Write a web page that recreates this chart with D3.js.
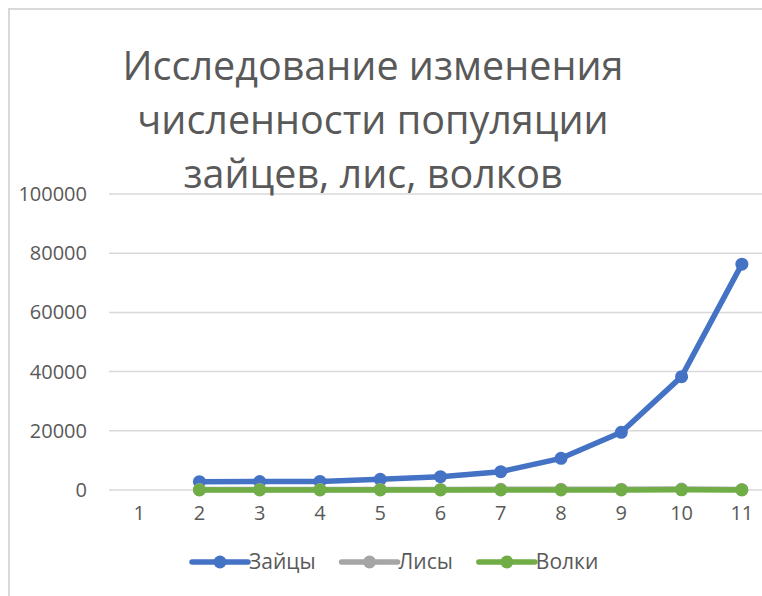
<!DOCTYPE html>
<html>
<head>
<meta charset="utf-8">
<script src="https://cdn.jsdelivr.net/npm/d3@7"></script>
<style>
  html, body { margin: 0; padding: 0; background: #fff; }
  svg { display: block; font-family: "Open Sans", "Noto Sans", sans-serif; }
</style>
</head>
<body>
<div id="chart"></div>
<script>
// данные графика
const categories = ["1", "2", "3", "4", "5", "6", "7", "8", "9", "10", "11"];
const hares  = [null, 2800, 2850, 2900, 3600, 4500, 6200, 10700, 19500, 38300, 76300];
const foxes  = [null, 150, 160, 170, 180, 200, 220, 250, 280, 320, 150];
const wolves = [null, 20, 22, 25, 28, 30, 33, 36, 40, 45, 30];
const yTicks = [0, 20000, 40000, 60000, 80000, 100000];
const seriesNames = ["Зайцы", "Лисы", "Волки"];
const titleLines = ["Исследование изменения", "численности популяции", "зайцев, лис, волков"];

const colors = d3.scaleOrdinal()
  .domain(seriesNames)
  .range(["#4472C4", "#A5A5A5", "#70AD47"]);

const width = 762;
const height = 596;

const svg = d3.select("#chart")
  .append("svg")
  .attr("width", width)
  .attr("height", height);

// рамка области диаграммы
svg.append("rect")
  .attr("x", 9)
  .attr("y", 9)
  .attr("width", width + 20)
  .attr("height", height + 20)
  .attr("fill", "none")
  .attr("stroke", "#d9d9d9")
  .attr("stroke-width", 2);

// шкалы
const x = d3.scaleBand()
  .domain(categories)
  .range([109, 772])
  .padding(0);

const y = d3.scaleLinear()
  .domain([0, 100000])
  .range([490, 194]);

// сетка
svg.append("g")
  .selectAll("line")
  .data(yTicks)
  .enter()
  .append("line")
  .attr("x1", 109)
  .attr("x2", 772)
  .attr("y1", d => y(d))
  .attr("y2", d => y(d))
  .attr("stroke", "#d9d9d9")
  .attr("stroke-width", 1.5);

// подписи оси Y
const yAxis = d3.axisLeft(y)
  .tickValues(yTicks)
  .tickSize(0)
  .tickPadding(22)
  .tickFormat(d3.format("d"));

svg.append("g")
  .attr("transform", "translate(109,0)")
  .call(yAxis)
  .call(g => g.select(".domain").remove())
  .call(g => g.selectAll("text")
    .attr("fill", "#595959")
    .attr("font-size", "20px")
    .attr("font-family", "'Open Sans', sans-serif"));

// подписи оси X
const xAxis = d3.axisBottom(x)
  .tickSize(0)
  .tickPadding(16);

svg.append("g")
  .attr("transform", "translate(0,490)")
  .call(xAxis)
  .call(g => g.select(".domain").remove())
  .call(g => g.selectAll("text")
    .attr("fill", "#595959")
    .attr("font-size", "20px")
    .attr("font-family", "'Open Sans', sans-serif"));

// заголовок
svg.append("g")
  .selectAll("text")
  .data(titleLines)
  .enter()
  .append("text")
  .attr("x", 373)
  .attr("y", (d, i) => 80 + i * 54)
  .attr("text-anchor", "middle")
  .attr("font-size", "39.5px")
  .attr("fill", "#595959")
  .text(d => d);

// линии серий
const series = [
  { name: "Зайцы", values: hares },
  { name: "Лисы", values: foxes },
  { name: "Волки", values: wolves }
];

const line = d3.line()
  .defined(d => d != null)
  .x((d, i) => x(categories[i]) + x.bandwidth() / 2)
  .y(d => y(d));

series.forEach(s => {
  const g = svg.append("g");
  g.append("path")
    .datum(s.values)
    .attr("d", line)
    .attr("fill", "none")
    .attr("stroke", colors(s.name))
    .attr("stroke-width", 5.5)
    .attr("stroke-linejoin", "round");

  g.selectAll("circle")
    .data(s.values.map((v, i) => ({ v, i })).filter(d => d.v != null))
    .enter()
    .append("circle")
    .attr("cx", d => x(categories[d.i]) + x.bandwidth() / 2)
    .attr("cy", d => y(d.v))
    .attr("r", 6.5)
    .attr("fill", colors(s.name));
});

// легенда
const legend = svg.append("g");
let lx = 192;
seriesNames.forEach(name => {
  legend.append("line")
    .attr("x1", lx)
    .attr("x2", lx + 56)
    .attr("y1", 562)
    .attr("y2", 562)
    .attr("stroke", colors(name))
    .attr("stroke-width", 5.5)
    .attr("stroke-linecap", "round");
  legend.append("circle")
    .attr("cx", lx + 28)
    .attr("cy", 562)
    .attr("r", 6.5)
    .attr("fill", colors(name));
  const t = legend.append("text")
    .attr("x", lx + 57)
    .attr("y", 569)
    .attr("font-size", "21px")
    .attr("fill", "#595959")
    .text(name);
  lx += 57 + t.node().getComputedTextLength() + 26;
});
</script>
</body>
</html>
